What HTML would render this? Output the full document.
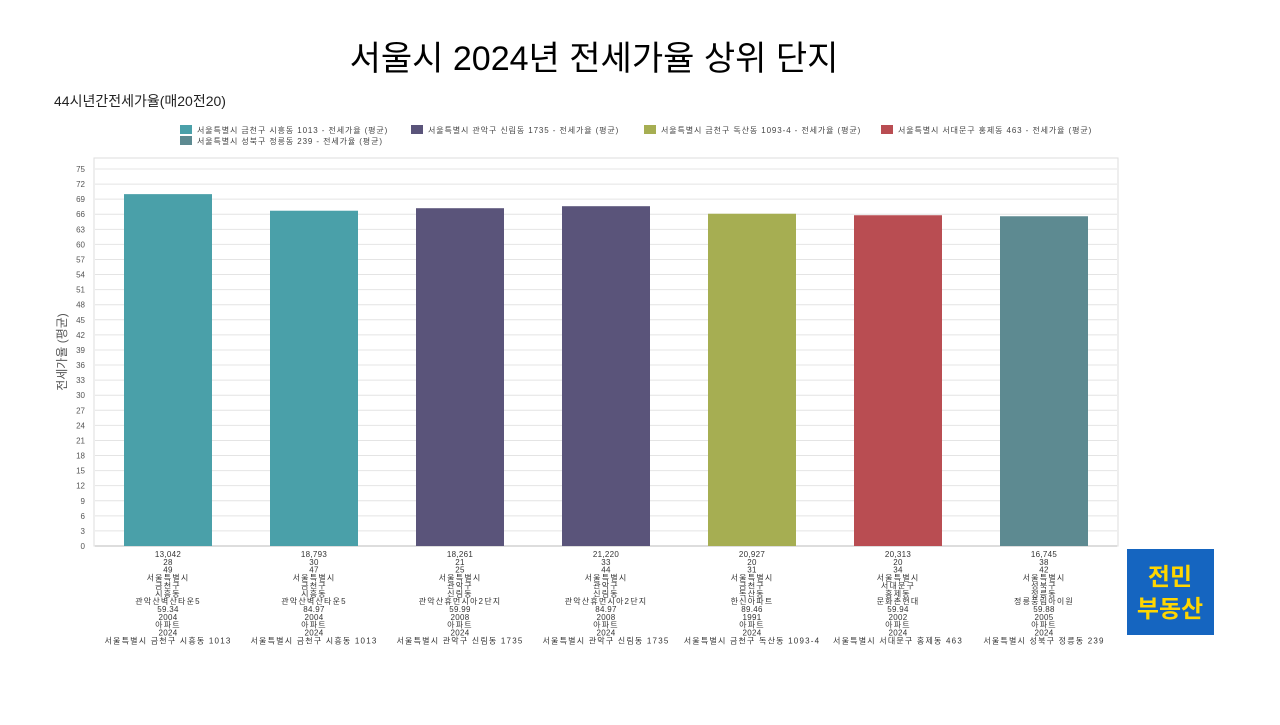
<!DOCTYPE html>
<html><head><meta charset="utf-8">
<style>
body{margin:0;width:1280px;height:720px;background:#fff;overflow:hidden;font-family:"Liberation Sans","Noto Sans CJK KR",sans-serif}
svg text{font-family:"Liberation Sans","Noto Sans CJK KR",sans-serif}
</style></head>
<body>
<svg id="chart" width="1280" height="720">
<text x="594" y="70" text-anchor="middle" font-size="34" fill="#000">서울시 2024년 전세가율 상위 단지</text>
<text x="54" y="106" font-size="14" fill="#222">44시년간전세가율(매20전20)</text>
<text transform="translate(66,352) rotate(-90)" text-anchor="middle" font-size="12" fill="#555">전세가율 (평균)</text>
<g id="legend"></g>
<g id="grid"></g><g id="bars"></g><g id="labels"></g>
<rect x="1127" y="549" width="87" height="86" fill="#1565c0"/>
<text x="1170" y="585" text-anchor="middle" font-size="24" font-weight="bold" fill="#ffd600">전민</text>
<text x="1170" y="617" text-anchor="middle" font-size="24" font-weight="bold" fill="#ffd600">부동산</text>
</svg>
<script>
const categories=["서울특별시 금천구 시흥동 1013","서울특별시 금천구 시흥동 1013","서울특별시 관악구 신림동 1735","서울특별시 관악구 신림동 1735","서울특별시 금천구 독산동 1093-4","서울특별시 서대문구 홍제동 463","서울특별시 성북구 정릉동 239"];
const values=[70.0,66.7,67.2,67.6,66.1,65.8,65.6];
const colors=["#4aa0a9","#4aa0a9","#5a547a","#5a547a","#a6ae52","#b94d52","#5d8a91"];
const yTicks=[0,3,6,9,12,15,18,21,24,27,30,33,36,39,42,45,48,51,54,57,60,63,66,69,72,75];
const detail1=["13,042","18,793","18,261","21,220","20,927","20,313","16,745"];
const detail2=["28","30","21","33","20","20","38"];
const detail3=["49","47","25","44","31","34","42"];
const sido=["서울특별시","서울특별시","서울특별시","서울특별시","서울특별시","서울특별시","서울특별시"];
const gu=["금천구","금천구","관악구","관악구","금천구","서대문구","성북구"];
const dong=["시흥동","시흥동","신림동","신림동","독산동","홍제동","정릉동"];
const apt=["관악산벽산타운5","관악산벽산타운5","관악산휴먼시아2단지","관악산휴먼시아2단지","한신아파트","문화촌현대","정릉풍림아이원"];
const area=["59.34","84.97","59.99","84.97","89.46","59.94","59.88"];
const built=["2004","2004","2008","2008","1991","2002","2005"];
const kind=["아파트","아파트","아파트","아파트","아파트","아파트","아파트"];
const yr=["2024","2024","2024","2024","2024","2024","2024"];
const legendNames=["서울특별시 금천구 시흥동 1013 - 전세가율 (평균)","서울특별시 관악구 신림동 1735 - 전세가율 (평균)","서울특별시 금천구 독산동 1093-4 - 전세가율 (평균)","서울특별시 서대문구 홍제동 463 - 전세가율 (평균)","서울특별시 성북구 정릉동 239 - 전세가율 (평균)"];
const legendColors=["#4aa0a9","#5a547a","#a6ae52","#b94d52","#5d8a91"];

const NS="http://www.w3.org/2000/svg";
const L=95,R=1117,T=158,B=546,y0=546,y75=169;
const y=v=>y0-(v/75)*(y0-y75);
const slot=(R-L)/categories.length;
const x=i=>L+slot*(i+0.5);
function mk(tag,attrs,parent,txt){const e=document.createElementNS(NS,tag);for(const k in attrs)e.setAttribute(k,attrs[k]);if(txt!==undefined)e.textContent=txt;parent.appendChild(e);return e;}
const grid=document.getElementById('grid'),bars=document.getElementById('bars'),labels=document.getElementById('labels'),legend=document.getElementById('legend');
const fr=mk('rect',{x:L-1,y:T,width:R-L+2,height:B-T,fill:'none',stroke:'#ddd'},grid);


yTicks.forEach(t=>{
 const g=mk('line',{x1:L,x2:R,y1:y(t),y2:y(t),stroke:t===0?'#bbb':'#e4e4e4'},grid);
 
 
 const tl=mk('text',{x:L-10,y:y(t)+3,'text-anchor':'end','font-size':8,fill:'#555'},grid,String(t));
 
 
});
const bw=88;
values.forEach((v,i)=>{
 const r=mk('rect',{x:x(i)-bw/2,y:y(v),width:bw,height:y0-y(v),fill:colors[i]},bars);
 
 
 const lines=[detail1[i],detail2[i],detail3[i],sido[i],gu[i],dong[i],apt[i],area[i],built[i],kind[i],yr[i],categories[i]];
 lines.forEach((s,j)=>{
  const t=mk('text',{x:x(i),y:557+j*7.85,'text-anchor':'middle','font-size':8,'letter-spacing':(j>=3&&!/^[0-9.,]+$/.test(s))?1.2:0.3,fill:'#333'},labels,s);
  
  
 });
});
const legPos=[[180,130],[411,130],[644,130],[881,130],[180,141]];
legendNames.forEach((n,i)=>{
 const [lx,ly]=legPos[i];
 const sw=mk('rect',{x:lx,y:ly-5,width:12,height:9,fill:legendColors[i]},legend);
 
 
 const t=mk('text',{x:lx+17,y:ly+3,'font-size':8,'letter-spacing':0.9,fill:'#444'},legend,n);
 
 
});
</script>
</body></html>
